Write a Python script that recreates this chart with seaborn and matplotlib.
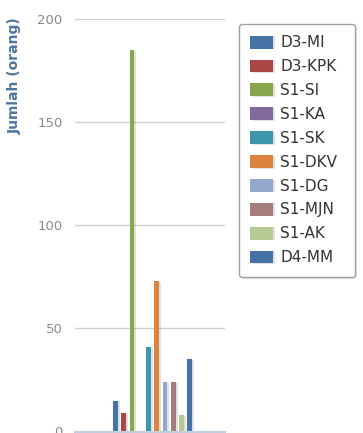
import matplotlib
matplotlib.use("Agg")
import matplotlib.pyplot as plt
import matplotlib.patheffects as pe
import pandas as pd
import seaborn as sns

# Program studi dan jumlah mahasiswa
programs = ["D3-MI", "D3-KPK", "S1-SI", "S1-KA", "S1-SK",
            "S1-DKV", "S1-DG", "S1-MJN", "S1-AK", "D4-MM"]
counts = [15, 9, 185, 0, 41, 73, 24, 24, 8, 35]
colors = ["#4572A7", "#AA4643", "#89A54E", "#80699B", "#3D96AE",
          "#DB843D", "#92A8CD", "#A47D7C", "#B5CA92", "#4572A7"]
y_ticks = [0, 50, 100, 150, 200]

df = pd.DataFrame({"kategori": [""] * len(programs),
                   "program": programs,
                   "jumlah": counts})

sns.set_style("white")
plt.rcParams["font.family"] = ["DejaVu Sans"]

W, H = 363, 433
fig = plt.figure(figsize=(W / 100, H / 100), dpi=100)
ax = fig.add_axes([75 / W, 1.5 / H, 150 / W, 412.5 / H])

sns.barplot(data=df, x="kategori", y="jumlah", hue="program",
            hue_order=programs, palette=colors, width=0.55, gap=0.42,
            saturation=1, errorbar=None, ax=ax, legend=True)

for bar in ax.patches:
    bar.set_linewidth(0)
    bar.set_path_effects([pe.SimplePatchShadow(offset=(1.5, -0.5),
                                               shadow_rgbFace="#000000",
                                               alpha=0.12),
                          pe.Normal()])

ax.set_xlim(-0.517, 0.483)
ax.set_ylim(0, 200)
ax.set_yticks(y_ticks)
ax.set_yticklabels([str(v) for v in y_ticks], color="#8A8A8A", fontsize=9.5)
ax.tick_params(axis="y", length=0, pad=9)
ax.set_xticks([])
ax.set_xlabel("")
ax.set_ylabel("")
ax.yaxis.grid(True, color="#D0D0D0", linewidth=1)
ax.set_axisbelow(True)
for side in ["top", "right", "left"]:
    ax.spines[side].set_visible(False)
ax.spines["bottom"].set_color("#C0D0E0")
ax.spines["bottom"].set_linewidth(1.5)

fig.text(15 / W, 1 - 17 / H, "Jumlah (orang)", rotation=90,
         ha="center", va="top", color="#4D759E", fontsize=10,
         fontweight="bold")

handles, labels = ax.get_legend_handles_labels()
ax.legend(handles, labels, loc="upper left", mode="expand",
          bbox_to_anchor=(239 / W, 1 - 24 / H - 0.01, 116 / W, 0.01),
          bbox_transform=fig.transFigure,
          fontsize=11, labelcolor="#333333",
          handlelength=1.45, handleheight=0.92, handletextpad=0.5,
          labelspacing=0.58, borderpad=0.75, borderaxespad=0,
          frameon=True, fancybox=True, shadow=False,
          edgecolor="#A0A0A0", framealpha=1)
leg = ax.get_legend()
leg.get_frame().set_linewidth(1.0)
leg.get_frame().set_path_effects([pe.SimplePatchShadow(offset=(1.5, -1.5),
                                                       alpha=0.15),
                                  pe.Normal()])

fig.savefig("out.png", dpi=100)
